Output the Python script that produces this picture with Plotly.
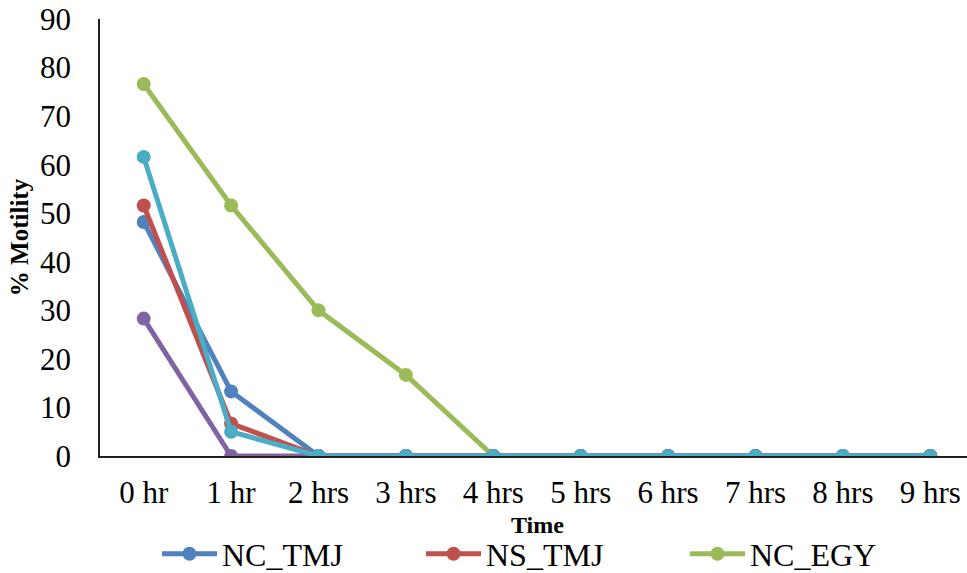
import plotly.graph_objects as go

categories = ["0 hr", "1 hr", "2 hrs", "3 hrs", "4 hrs", "5 hrs", "6 hrs", "7 hrs", "8 hrs", "9 hrs"]
nc_tmj = [48.2, 13.3, 0, 0, 0, 0, 0, 0, 0, 0]
ns_tmj = [51.6, 6.7, 0, 0, 0, 0, 0, 0, 0, 0]
nc_egy = [76.6, 51.6, 30.0, 16.7, 0, 0, 0, 0, 0, 0]
series4 = [28.3, 0, 0, 0, 0, 0, 0, 0, 0, 0]
series5 = [61.6, 5.0, 0, 0, 0, 0, 0, 0, 0, 0]

series = [
    ("NC_TMJ", nc_tmj, "#4F81BD", True),
    ("NS_TMJ", ns_tmj, "#C0504D", True),
    ("NC_EGY", nc_egy, "#9BBB59", True),
    ("NS_EGY", series4, "#8064A2", False),
    ("Control", series5, "#4BACC6", False),
]

fig = go.Figure()
for name, vals, col, show in series:
    fig.add_trace(go.Scatter(
        x=list(range(len(categories))), y=vals, name=name, mode="lines+markers",
        line=dict(color=col, width=5), marker=dict(color=col, size=14),
        showlegend=show,
    ))

TOP, BOT = 19, 456
H = BOT - TOP
font = "Liberation Serif, Times New Roman, serif"
fig.update_layout(
    width=967, height=573,
    margin=dict(l=100, r=0, t=TOP, b=573 - BOT),
    plot_bgcolor="white", paper_bgcolor="white",
    font=dict(family=font, size=31, color="black"),
    showlegend=True,
    legend=dict(orientation="h", x=(163 - 6 - 100) / 867, xanchor="left",
                yref="container", y=1 - 554 / 573, yanchor="middle",
                entrywidth=194, entrywidthmode="pixels", font=dict(size=32),
                itemwidth=55, tracegroupgap=0),
    xaxis=dict(
        tickmode="array", tickvals=list(range(len(categories))), ticktext=categories,
        range=[-0.5, 9.42], showgrid=False, zeroline=False,
        showline=True, linecolor="#202020", linewidth=2, ticks="",
        tickfont=dict(size=31), ticklabelstandoff=8,
    ),
    yaxis=dict(
        range=[0, 90], dtick=10, showgrid=False, zeroline=False,
        showline=True, linecolor="#202020", linewidth=1.5, ticks="",
        tickfont=dict(size=31), ticklabelstandoff=21,
        title=dict(text="<b>% Motility</b>", font=dict(size=25), standoff=4),
    ),
    annotations=[dict(text="<b>Time</b>", x=437 / 867, y=-(525 - BOT) / H,
                      xref="paper", yref="paper", yanchor="middle",
                      showarrow=False, font=dict(size=24))],
)

fig.write_html("out.html")
